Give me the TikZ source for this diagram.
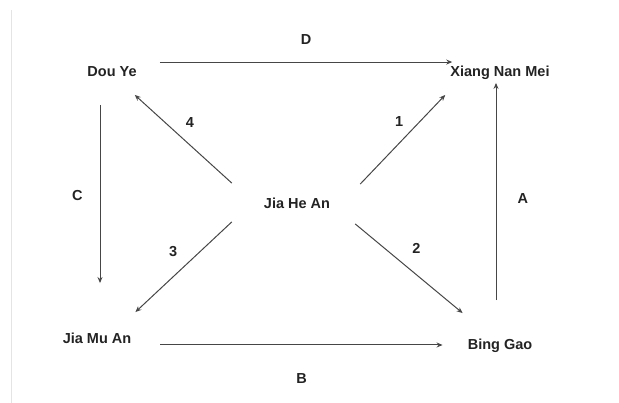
\documentclass[tikz,border=0pt]{standalone}
\usepackage{fontspec}
\setmainfont{Liberation Sans}
\usetikzlibrary{arrows.meta,positioning}
\definecolor{cLine}{RGB}{70,70,70}
\definecolor{cText}{RGB}{35,35,35}
\definecolor{cFrame}{RGB}{228,228,228}
\tikzset{
  namenode/.style={inner sep=3pt,text height=10.5pt,text depth=3pt,
                   font=\fontsize{14.5}{17}\selectfont\bfseries,text=cText},
  lbl/.style={inner sep=3pt,font=\fontsize{14.5}{17}\selectfont\bfseries,text=cText},
  arr/.style={-{Stealth[length=6pt,width=5pt]},line width=1pt,color=cLine}
}
\begin{document}
\begin{tikzpicture}[x=1pt,y=1pt,on grid]

  \useasboundingbox (0,0) rectangle (619,403);
  \draw[cFrame,line width=0.8pt] (11,0) -- (11,393);

  % Centre: Jia He An
  \node[namenode] (jha) at (297,198) {Jia He An};

  % Corner nodes
  \node[namenode, above left=132pt and 185pt of jha] (dou) {Dou Ye};
  \node[namenode, above right=132pt and 203pt of jha] (xnm) {Xiang Nan Mei};
  \node[namenode, below left=135pt and 200pt of jha] (jmu) {Jia Mu An};
  \node[namenode, below right=141pt and 203pt of jha] (bing) {Bing Gao};

  % Outer arrows
  \draw[arr] ([xshift=20pt,yshift=1pt]dou.north east)
    -- node[lbl,above=14pt] {D} ([xshift=5pt,yshift=1pt]xnm.north west);
  \draw[arr,shorten <=22pt,shorten >=47pt] ([xshift=-12pt]dou.south)
    -- node[lbl,pos=0.454,left=14pt] {C} ([xshift=3pt]jmu.north);
  \draw[arr] ([xshift=26pt,yshift=-5pt]jmu.east)
    -- node[lbl,below=25pt] {B} ([xshift=-22pt,yshift=1pt]bing.west);
  \draw[arr,shorten <=36pt] ([xshift=-4pt]bing.north)
    -- node[lbl,pos=0.545,right=18pt] {A} ([xshift=-4pt]xnm.south);

  % Arrows out of the centre
  \draw[arr] ([xshift=-29pt,yshift=12pt]jha.north west)
    -- node[lbl,pos=0.55,above right=5.5pt] {4} ([xshift=-5pt,yshift=-12pt]dou.south east);
  \draw[arr] ([xshift=27pt,yshift=11pt]jha.north east)
    -- node[lbl,pos=0.58,above left=4pt] {1} ([xshift=-2pt,yshift=-12pt]xnm.south west);
  \draw[arr] ([xshift=-29pt,yshift=-7pt]jha.south west)
    -- node[lbl,pos=0.48,above left=6.7pt] {3} ([xshift=1pt,yshift=18pt]jmu.north east);
  \draw[arr] ([xshift=22pt,yshift=-9pt]jha.south east)
    -- node[lbl,pos=0.44,above right=9pt] {2} ([xshift=-2pt,yshift=23pt]bing.north west);

\end{tikzpicture}
\end{document}
